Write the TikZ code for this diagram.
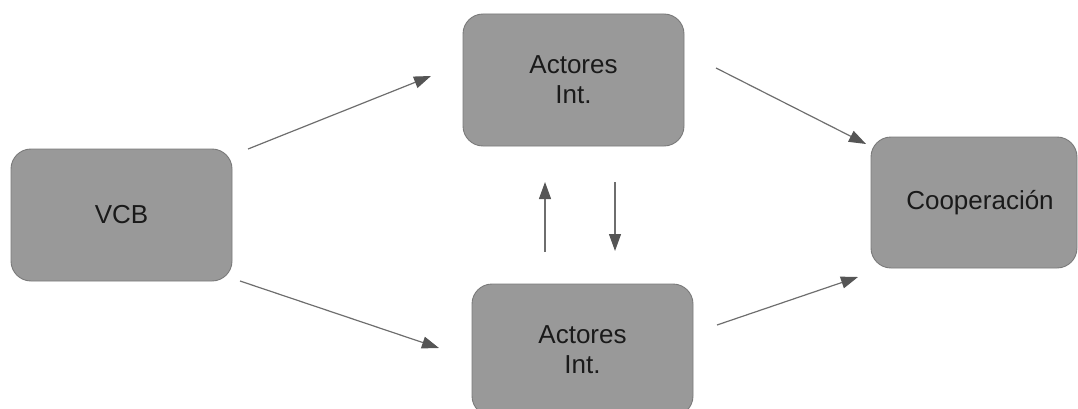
\documentclass[tikz,border=0pt]{standalone}
\usepackage{fontspec}
\setmainfont{Liberation Sans}
\usetikzlibrary{arrows.meta}
\definecolor{boxfill}{HTML}{999999}
\definecolor{boxline}{HTML}{7A7A7A}
\definecolor{arrowline}{HTML}{6E6E6E}
\definecolor{arrowhead}{HTML}{555555}
\definecolor{labeltext}{HTML}{1A1A1A}
\begin{document}
\begin{tikzpicture}[x=1pt,y=-1pt,
  box/.style={draw=boxline, line width=0.9pt, fill=boxfill, rounded corners=20pt,
    minimum width=221pt, minimum height=132pt, inner sep=0pt,
    text=labeltext, align=center, font=\fontsize{26}{30}\selectfont},
  flow/.style={draw=arrowline, line width=1.2pt,
    -{Triangle[length=17pt,width=12pt,fill=arrowhead,color=arrowhead]}}]
  \useasboundingbox (0,0) rectangle (1078,409);
  \clip (0,0) rectangle (1078,409);

  % boxes
  \node[box] (vcb)  at (121.5,215) {VCB};
  \node[box] (top)  at (573.5,80)  {Actores\\Int.};
  \node[box] (bot)  at (582.5,350) {Actores\\Int.};
  \node[box, minimum width=206pt, minimum height=131pt] (coop) at (974,202.5) {};
  \node[text=labeltext, font=\fontsize{26}{30}\selectfont] (cooptext) at (980,202.5) {Cooperación};

  % free arrow ends
  \coordinate (vt0) at (248,149);
  \coordinate (vt1) at (431,76);
  \coordinate (vb0) at (240,281);
  \coordinate (vb1) at (439,348);
  \coordinate (tc0) at (716,68);
  \coordinate (tc1) at (866,144);
  \coordinate (bc0) at (717,325);
  \coordinate (bc1) at (858,277);
  \coordinate (up0) at (545,252);
  \coordinate (up1) at (545,182);
  \coordinate (dn0) at (615,182);
  \coordinate (dn1) at (615,251);

  % connectors
  \draw[flow] (vt0) -- (vt1);
  \draw[flow] (vb0) -- (vb1);
  \draw[flow] (tc0) -- (tc1);
  \draw[flow] (bc0) -- (bc1);
  \draw[flow] (up0) -- (up1);
  \draw[flow] (dn0) -- (dn1);
\end{tikzpicture}
\end{document}
